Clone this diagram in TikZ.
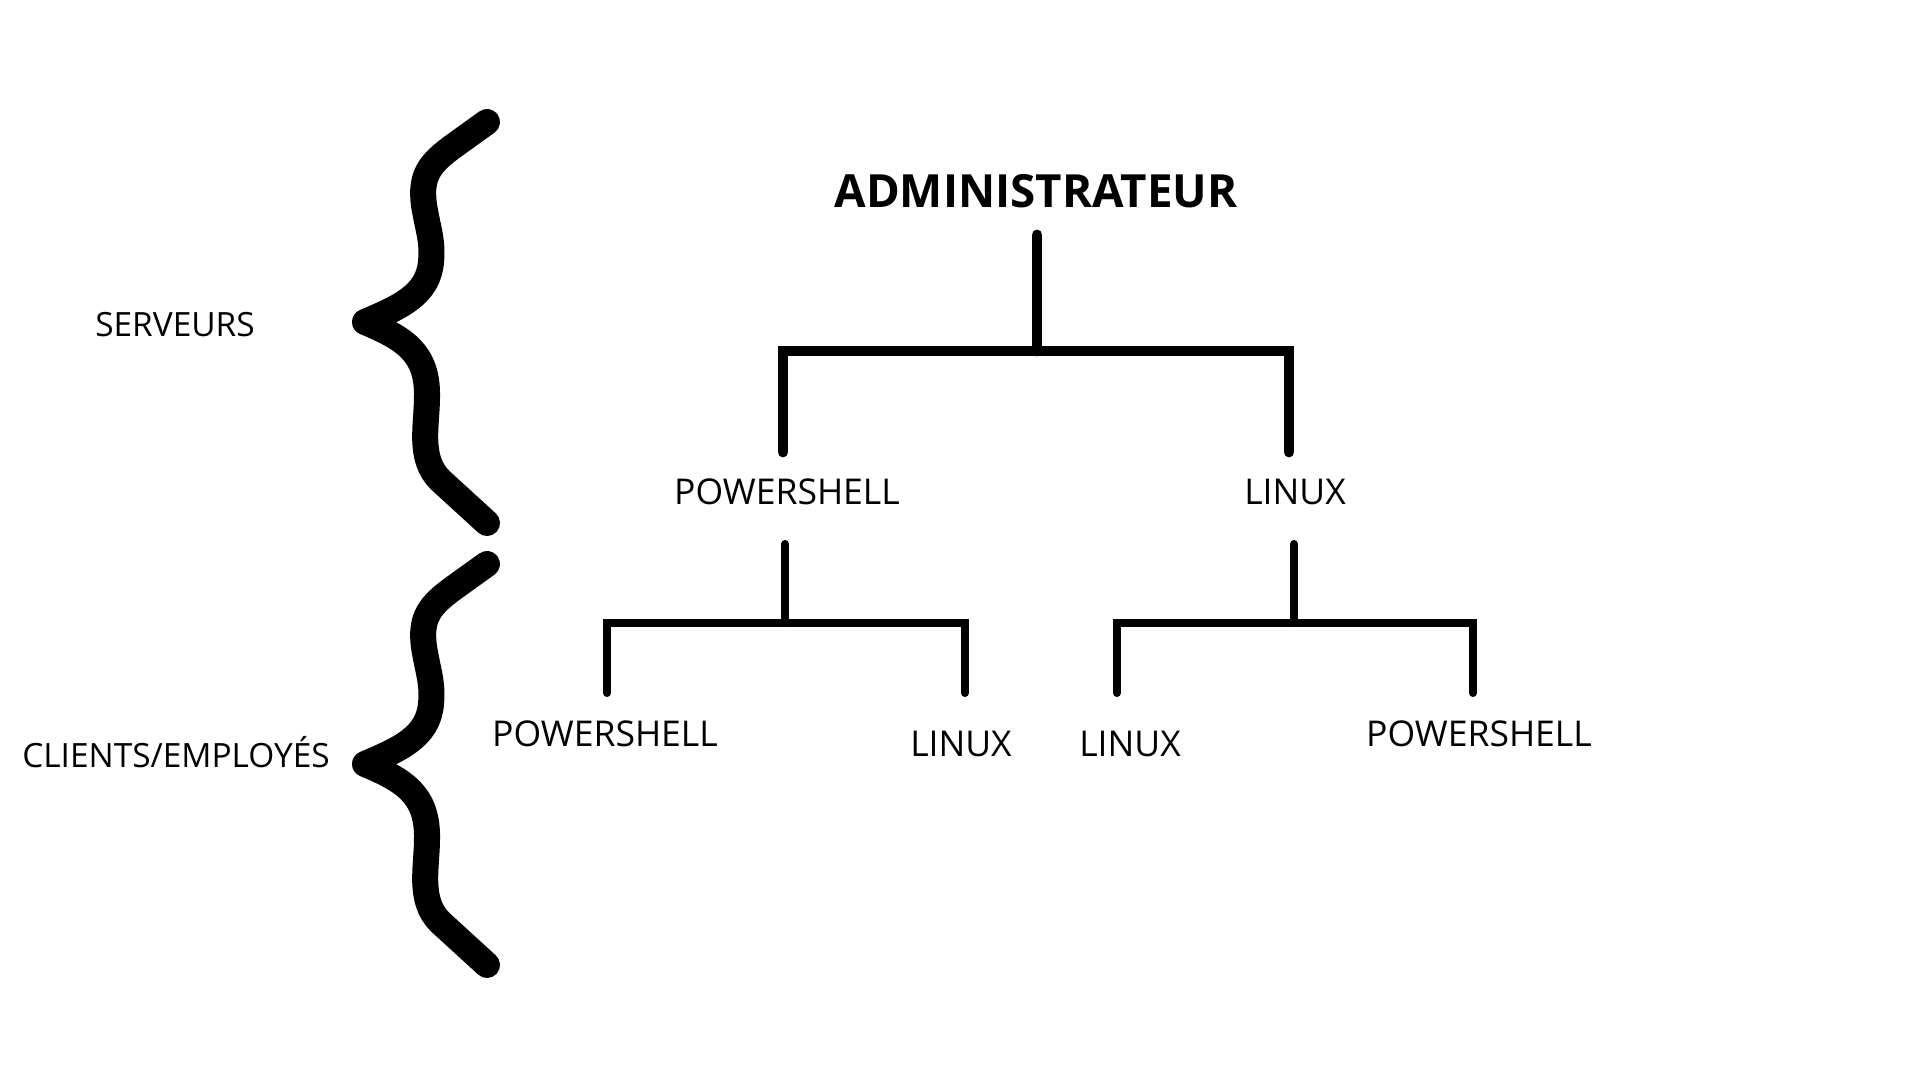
\documentclass[tikz,border=0pt]{standalone}
\usepackage{fontspec}
\setmainfont{Open Sans}
\begin{document}
\begin{tikzpicture}[x=0.01cm,y=-0.01cm,
  lbl/.style={inner sep=0pt,anchor=base,font=\fontsize{10.1}{12}\selectfont},
  side/.style={inner sep=0pt,anchor=base,font=\fontsize{9.5}{11}\selectfont},
  ttl/.style={inner sep=0pt,anchor=base,font=\fontsize{13}{16}\selectfont\bfseries},
  treeA/.style={line width=3.1pt,line cap=round,line join=miter},
  treeB/.style={line width=2.3pt,line cap=round,line join=miter},
  bracestroke/.style={line width=7.4pt,line cap=round,line join=round}]
\useasboundingbox (0,0) rectangle (1920,1080);
% braces
\foreach \dy in {0,442}{
\begin{scope}[yshift=-\dy*0.01cm]
\draw[bracestroke] (487,122) -- (455,145) .. controls (430,163) and (420,175) .. (424,205)
  .. controls (428,230) and (433,240) .. (431,262)
  .. controls (428,295) and (400,307) .. (365,322)
  .. controls (403,338) and (428,352) .. (427,397)
  .. controls (427,425) and (418,458) .. (440,480) -- (487,523);
\end{scope}}
% labels
\node[side] (serv) at (175,337) {SERVEURS};
\node[side] (cli) at (176,768) {CLIENTS/EMPLOYÉS};
\node[ttl] (admin) at (1036,208) {ADMINISTRATEUR};
\node[lbl] (ps1) at (787,505) {POWERSHELL};
\node[lbl] (lx1) at (1295,505) {LINUX};
\node[lbl] (ps2) at (605,747) {POWERSHELL};
\node[lbl] (lx2) at (961,757) {LINUX};
\node[lbl] (lx3) at (1130,757) {LINUX};
\node[lbl] (ps3) at (1479,747) {POWERSHELL};
% tree coordinates
\coordinate (aTop) at (1037,235);
\coordinate (aJoin) at (1037,351);
\coordinate (aL) at (783,452);
\coordinate (aR) at (1289,452);
\coordinate (pTop) at (785,544);
\coordinate (pJoin) at (785,623);
\coordinate (pL) at (607,693);
\coordinate (pR) at (965,693);
\coordinate (lTop) at (1294,544);
\coordinate (lJoin) at (1294,623);
\coordinate (lL) at (1117,693);
\coordinate (lR) at (1473,693);
% connectors
\draw[treeA] (aTop) -- (aJoin);
\draw[treeA] (aL) |- (aJoin) -| (aR);
\draw[treeB] (pTop) -- (pJoin);
\draw[treeB] (pL) |- (pJoin) -| (pR);
\draw[treeB] (lTop) -- (lJoin);
\draw[treeB] (lL) |- (lJoin) -| (lR);
\end{tikzpicture}
\end{document}
